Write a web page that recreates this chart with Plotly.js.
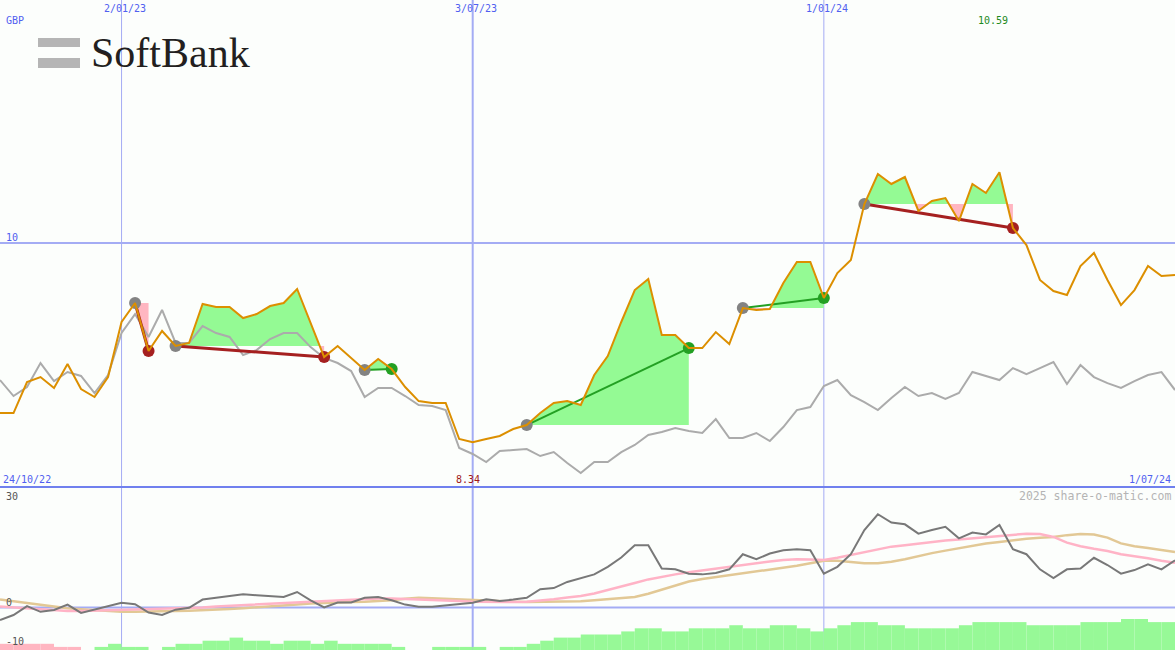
<!DOCTYPE html>
<html><head><meta charset="utf-8">
<script src="https://cdn.plot.ly/plotly-3.0.1.min.js"></script>
<style>html,body{margin:0;padding:0;background:#FCFEFC;}#chart{width:1175px;height:650px;}</style>
</head><body><div id="chart"></div>
<script>
// ---------- DATA ----------
const dates = ['2022-10-31','2022-11-07','2022-11-14','2022-11-21','2022-11-28','2022-12-05','2022-12-12','2022-12-19','2022-12-26',
'2023-01-02','2023-01-09','2023-01-16','2023-01-23','2023-01-30','2023-02-06','2023-02-13','2023-02-20','2023-02-27',
'2023-03-06','2023-03-13','2023-03-20','2023-03-27','2023-04-03','2023-04-10','2023-04-17','2023-04-24','2023-05-01',
'2023-05-08','2023-05-15','2023-05-22','2023-05-29','2023-06-05','2023-06-12','2023-06-19','2023-06-26','2023-07-03',
'2023-07-10','2023-07-17','2023-07-24','2023-07-31','2023-08-07','2023-08-14','2023-08-21','2023-08-28','2023-09-04',
'2023-09-11','2023-09-18','2023-09-25','2023-10-02','2023-10-09','2023-10-16','2023-10-23','2023-10-30','2023-11-06',
'2023-11-13','2023-11-20','2023-11-27','2023-12-04','2023-12-11','2023-12-18','2023-12-25','2024-01-01','2024-01-08',
'2024-01-15','2024-01-22','2024-01-29','2024-02-05','2024-02-12','2024-02-19','2024-02-26','2024-03-04','2024-03-11',
'2024-03-18','2024-03-25','2024-04-01','2024-04-08','2024-04-15','2024-04-22','2024-04-29','2024-05-06','2024-05-13',
'2024-05-20','2024-05-27','2024-06-03','2024-06-10','2024-06-17','2024-06-24','2024-07-01'];

// SoftBank share price (GBP), weekly close
const price = [8.583,8.583,8.842,8.883,8.792,8.992,8.783,8.717,8.883,9.342,9.500,9.100,9.267,9.142,9.167,9.492,9.467,9.467,
9.375,9.408,9.475,9.500,9.617,9.333,9.050,9.142,9.042,8.942,9.033,8.950,8.800,8.683,8.667,8.667,8.367,8.340,
8.367,8.392,8.450,8.483,8.583,8.667,8.683,8.650,8.900,9.058,9.342,9.608,9.700,9.233,9.233,9.125,9.125,9.258,
9.158,9.458,9.442,9.450,9.667,9.842,9.842,9.542,9.750,9.858,10.325,10.575,10.492,10.550,10.267,10.350,10.375,10.183,
10.492,10.417,10.590,10.125,9.983,9.692,9.600,9.567,9.808,9.917,9.692,9.483,9.608,9.808,9.725,9.733];

// comparison (index-relative) line
const compare = [8.858,8.725,8.800,9.000,8.850,8.925,8.892,8.750,8.900,9.250,9.408,9.217,9.442,9.167,9.167,9.308,9.250,9.217,
9.067,9.108,9.200,9.250,9.250,9.133,9.042,9.000,8.933,8.717,8.792,8.792,8.725,8.650,8.642,8.608,8.292,8.242,
8.175,8.267,8.275,8.283,8.225,8.258,8.167,8.083,8.175,8.175,8.258,8.317,8.400,8.425,8.458,8.433,8.417,8.533,
8.375,8.375,8.417,8.350,8.467,8.608,8.633,8.808,8.858,8.733,8.675,8.608,8.708,8.800,8.725,8.750,8.700,8.750,
8.925,8.892,8.858,8.958,8.908,8.958,9.008,8.825,8.983,8.883,8.833,8.792,8.850,8.900,8.925,8.775];

// lower panel: momentum and its two averages
const momentum = [-3.5,-2.1,0.4,-1.2,-0.7,0.8,-1.5,-0.6,0.2,1.3,0.9,-1.4,-2.1,-0.6,-0.1,2.2,2.7,3.1,3.7,3.4,3.1,2.9,4.3,2.0,
0.0,1.4,1.4,2.7,2.9,2.0,0.8,0.2,0.2,0.6,1.1,1.3,2.3,1.8,2.2,2.7,5.1,5.4,7.1,8.1,9.2,11.3,13.9,17.3,17.3,10.8,
10.6,9.4,9.2,9.6,10.6,14.8,13.4,15.0,15.9,16.2,15.9,9.4,11.3,14.8,21.5,25.9,23.6,23.1,20.5,21.5,22.4,19.2,20.8,
20.3,22.9,16.2,14.8,10.6,8.2,10.6,10.8,13.8,11.8,9.4,10.4,12.0,10.6,13.1];
const avgFast = [0.3,0.0,-0.3,-0.6,-0.9,-1.0,-1.0,-0.9,-0.8,-0.7,-0.7,-0.6,-0.5,-0.4,-0.3,0.0,0.3,0.5,0.7,0.9,1.1,1.3,1.5,1.7,
1.8,1.9,2.1,2.3,2.5,2.5,2.4,2.2,2.1,2.0,1.8,1.6,1.5,1.4,1.5,1.6,1.9,2.3,2.8,3.2,3.9,4.8,5.8,6.8,7.8,8.6,9.2,
9.8,10.3,10.8,11.4,12.0,12.4,12.8,13.2,13.4,13.3,13.2,13.8,14.6,15.5,16.2,16.9,17.3,17.8,18.2,18.6,18.9,19.2,
19.5,19.9,20.3,20.5,20.4,19.6,18.0,17.0,16.3,15.7,14.8,14.3,13.7,13.0,12.4];
const avgSlow = [2.2,1.7,1.2,0.7,0.2,-0.2,-0.5,-0.8,-1.0,-1.2,-1.2,-1.2,-1.1,-1.0,-0.9,-0.8,-0.6,-0.4,-0.2,0.0,0.2,0.5,0.8,1.1,
1.3,1.4,1.5,1.6,1.7,2.0,2.4,2.7,2.6,2.4,2.3,2.1,1.9,1.7,1.6,1.5,1.5,1.6,1.7,1.7,2.0,2.3,2.6,2.9,3.8,4.9,6.0,
7.2,7.9,8.4,8.9,9.6,10.1,10.6,11.1,11.6,12.3,13.0,13.0,12.6,12.3,12.3,12.7,13.4,14.3,15.1,15.8,16.5,17.3,17.8,
18.2,18.7,19.1,19.4,19.6,20.1,20.4,20.3,19.4,17.8,17.0,16.5,16.0,15.4];
// signal strength bars (negative = pink, positive = green)
const signalBars = [-2,-2,-2,-2,-1,-1,0,1,2,1,1,0,1,2,2,3,3,4,3,3,2,3,3,2,3,2,2,2,2,1,0,0,1,1,1,1,0,1,1,2,3,4,4,5,5,5,
6,7,7,6,6,7,7,7,8,7,7,8,8,7,6,7,8,9,9,8,8,7,7,7,7,8,9,9,9,9,8,8,8,8,9,9,9,10,10,9,9,9];

// trades
const entryDates = ['2023-01-09','2023-01-30','2023-05-08','2023-07-31','2023-11-20','2024-01-22'];
const exitDates  = ['2023-01-16','2023-04-17','2023-05-22','2023-10-23','2024-01-01','2024-04-08'];

// labels
const gridDates  = ['2023-01-02','2023-07-03','2024-01-01'];
const gridLabels = ['2/01/23','3/07/23','1/01/24'];
const startLabel = '24/10/22', endLabel = '1/07/24', currency = 'GBP';
const priceGrid = 10;
const lowerLabels = [30, 0, -10];
const brand = 'SoftBank';
const credit = '2025 share-o-matic.com';

// ---------- STYLE ----------
const W = 1175, H = 650;
const split = (H - 487) / H;
const BG = '#FCFEFC';
const GREENFILL = 'rgb(148,250,148)', PINKFILL = '#FFB6C1';
const BLUE = '#5060F0', GRID = '#A4ACF4';
const MONO = 'DejaVu Sans Mono, monospace';
const px = v => v / W, py = v => 1 - v / H;

const WEEK = 7 * 864e5;
function dAt(i, f) { // date at index i plus fraction f of a week
  const ms = Date.parse(dates[i]) + (f || 0) * WEEK;
  return new Date(ms).toISOString().replace('T', ' ').replace('Z', '');
}

const traces = [];
const trades = entryDates.map((ed, k) => {
  const a = dates.indexOf(ed), b = dates.indexOf(exitDates[k]);
  return {a, b, win: price[b] > price[a]};
});

// trade fills
trades.forEach(({a, b}) => {
  const L = price[a];
  ['up', 'down'].forEach(mode => {
    const xs = [], ys = [];
    const clip = v => mode === 'up' ? Math.max(v, L) : Math.min(v, L);
    for (let i = a; i <= b; i++) {
      xs.push(dAt(i)); ys.push(clip(price[i]));
      if (i < b) {
        const p0 = price[i], p1 = price[i + 1];
        if ((p0 - L) * (p1 - L) < 0) {
          const f = (L - p0) / (p1 - p0);
          xs.push(dAt(i, f)); ys.push(L);
        }
      }
    }
    xs.push(dAt(b)); ys.push(L);
    xs.push(dAt(a)); ys.push(L);
    traces.push({x: xs, y: ys, type: 'scatter', mode: 'lines', fill: 'toself',
      fillcolor: mode === 'up' ? GREENFILL : PINKFILL, line: {width: 0}, hoverinfo: 'skip',
      xaxis: 'x', yaxis: 'y'});
  });
});

// comparison line
traces.push({x: dates, y: compare, type: 'scatter', mode: 'lines', line: {color: '#ABABAB', width: 2}, xaxis: 'x', yaxis: 'y'});

// trade lines and markers
trades.forEach(({a, b, win}) => {
  const col = win ? '#23A023' : '#A52020';
  traces.push({x: [dates[a], dates[b]], y: [price[a], price[b]], type: 'scatter', mode: 'lines',
    line: {color: col, width: win ? 2 : 3}, xaxis: 'x', yaxis: 'y'});
});
trades.forEach(({a, b, win}) => {
  const col = win ? '#23A023' : '#A52020';
  traces.push({x: [dates[a]], y: [price[a]], type: 'scatter', mode: 'markers',
    marker: {color: '#838383', size: 12}, xaxis: 'x', yaxis: 'y'});
  traces.push({x: [dates[b]], y: [price[b]], type: 'scatter', mode: 'markers',
    marker: {color: col, size: 12}, xaxis: 'x', yaxis: 'y'});
});

// price line on top
traces.push({x: dates, y: price, type: 'scatter', mode: 'lines', line: {color: '#DC8F00', width: 2}, xaxis: 'x', yaxis: 'y'});

// lower panel bars
traces.push({x: dates, y: signalBars.map(Math.abs), type: 'bar', width: WEEK, offset: 0,
  marker: {color: signalBars.map(v => v < 0 ? PINKFILL : '#97F997'), line: {width: 0}},
  xaxis: 'x', yaxis: 'y3'});
traces.push({x: dates, y: avgSlow, type: 'scatter', mode: 'lines', line: {color: '#E2C895', width: 2.5}, xaxis: 'x', yaxis: 'y2'});
traces.push({x: dates, y: avgFast, type: 'scatter', mode: 'lines', line: {color: '#FFB3C6', width: 2.5}, xaxis: 'x', yaxis: 'y2'});
traces.push({x: dates, y: momentum, type: 'scatter', mode: 'lines', line: {color: '#787878', width: 2}, xaxis: 'x', yaxis: 'y2'});

// ---------- LAYOUT ----------
const hiIdx = price.indexOf(Math.max(...price));
const loIdx = price.indexOf(Math.min(...price));

const shapes = [];
gridDates.forEach((d, k) => {
  shapes.push({type: 'line', xref: 'x', yref: 'paper', x0: d, x1: d, y0: 0, y1: 1,
    line: {color: GRID, width: k === 1 ? 2 : 1}, layer: 'below'});
});
shapes.push({type: 'line', xref: 'paper', yref: 'y', x0: 0, x1: 1, y0: priceGrid, y1: priceGrid, line: {color: GRID, width: 2}, layer: 'below'});
shapes.push({type: 'line', xref: 'paper', yref: 'y2', x0: 0, x1: 1, y0: 0, y1: 0, line: {color: GRID, width: 2}, layer: 'below'});
shapes.push({type: 'line', xref: 'paper', yref: 'paper', x0: 0, x1: 1, y0: split, y1: split, line: {color: '#7080EE', width: 2}});
// logo bars
shapes.push({type: 'rect', xref: 'paper', yref: 'paper', x0: px(38), x1: px(80), y0: py(47), y1: py(38), fillcolor: '#B5B5B5', line: {width: 0}});
shapes.push({type: 'rect', xref: 'paper', yref: 'paper', x0: px(38), x1: px(80), y0: py(68), y1: py(58), fillcolor: '#B5B5B5', line: {width: 0}});

const ann = [];
const A = o => ann.push(Object.assign({showarrow: false, borderpad: 0, font: {family: MONO, size: 10, color: BLUE}}, o));
gridDates.forEach((d, k) => A({text: gridLabels[k], xref: 'x', yref: 'paper', x: d, y: py(9), xanchor: 'center', yanchor: 'middle', xshift: 3}));
A({text: currency, xref: 'paper', yref: 'paper', x: px(5), y: py(20), xanchor: 'left', yanchor: 'middle'});
A({text: String(priceGrid), xref: 'paper', yref: 'y', x: px(5), y: priceGrid, xanchor: 'left', yanchor: 'bottom', yshift: -1});
A({text: price[hiIdx].toFixed(2), xref: 'x', yref: 'paper', x: dates[hiIdx], y: py(20.5), xanchor: 'center', yanchor: 'middle', xshift: -6, font: {family: MONO, size: 10, color: '#1E8A1E'}});
A({text: price[loIdx].toFixed(2), xref: 'x', yref: 'paper', x: dates[loIdx], y: py(479), xanchor: 'center', yanchor: 'middle', xshift: -5, font: {family: MONO, size: 10, color: '#A01818'}});
A({text: startLabel, xref: 'paper', yref: 'paper', x: px(2), y: py(479), xanchor: 'left', yanchor: 'middle'});
A({text: endLabel, xref: 'paper', yref: 'paper', x: px(1172), y: py(479), xanchor: 'right', yanchor: 'middle'});
A({text: credit, xref: 'paper', yref: 'paper', x: px(1172), y: py(496), xanchor: 'right', yanchor: 'middle', font: {family: MONO, size: 11.5, color: '#B4B4B4'}});
lowerLabels.forEach(v => A({text: String(v), xref: 'paper', yref: 'y2', x: px(5), y: v,
  xanchor: 'left', yanchor: v === 0 ? 'bottom' : 'middle', yshift: v === 30 ? 3 : (v === 0 ? -2 : 2), font: {family: MONO, size: 10, color: '#555555'}}));
A({text: brand, xref: 'paper', yref: 'paper', x: px(90), y: py(53), xanchor: 'left', yanchor: 'middle', font: {family: 'Liberation Serif, serif', size: 42, color: '#231F20'}});

const layout = {
  width: W, height: H, margin: {l: 0, r: 0, t: 0, b: 0},
  paper_bgcolor: BG, plot_bgcolor: BG, showlegend: false, hovermode: false,
  xaxis: {type: 'date', range: [dates[0], dates[dates.length - 1]], showgrid: false, zeroline: false, showticklabels: false, ticks: ''},
  yaxis: {domain: [split, 1], range: [7.967, 12.025], showgrid: false, zeroline: false, showticklabels: false},
  yaxis2: {domain: [0, split], range: [-11.81, 33.47], showgrid: false, zeroline: false, showticklabels: false},
  yaxis3: {domain: [0, split], overlaying: 'y2', range: [0, 52.6], showgrid: false, zeroline: false, showticklabels: false},
  shapes: shapes, annotations: ann
};
Plotly.newPlot('chart', traces, layout, {staticPlot: true, displayModeBar: false});
</script></body></html>
